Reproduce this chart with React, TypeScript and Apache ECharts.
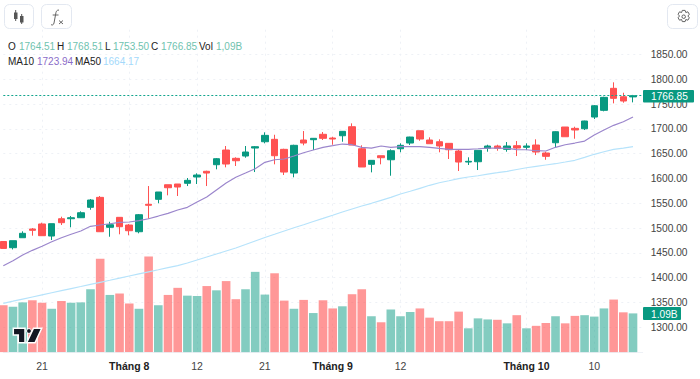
import React, { useEffect, useRef } from "react";
import * as echarts from "echarts";

// [open, close, low, high]
const candles: number[][] = [
  [1473, 1459, 1459, 1473], [1460.5, 1474.6, 1457, 1474.6], [1480.6, 1489.5, 1480.6, 1493.5], [1498.2, 1495.5, 1484.7, 1500.2],
  [1508.3, 1484.7, 1484.7, 1510.9], [1484, 1508.9, 1476, 1508.9], [1518.9, 1510.9, 1506.2, 1523], [1518.9, 1520.9, 1501.6, 1524.4],
  [1520.9, 1531, 1520.3, 1533.8], [1541.9, 1556.6, 1537, 1558.6], [1562, 1492.7, 1492.7, 1564.7], [1501.6, 1506.8, 1482.6, 1512.8],
  [1521.7, 1502.8, 1487.5, 1521.7], [1506.2, 1494.7, 1485.5, 1508.3], [1492.7, 1527, 1489.5, 1528.4], [1548, 1546, 1518.9, 1584.8],
  [1558, 1572.8, 1550, 1572.8], [1587.4, 1581.4, 1566.1, 1587.4], [1588.9, 1582.8, 1564.7, 1588.9], [1590.3, 1596.3, 1584.8, 1601],
  [1603, 1607, 1588.9, 1610.4], [1614.5, 1611, 1584.8, 1615.7], [1627.8, 1639.9, 1618.5, 1641.3], [1657.4, 1629.2, 1622.5, 1665.5],
  [1640.7, 1635.8, 1625.2, 1642.7], [1645.3, 1653.4, 1641.9, 1665.5], [1661.4, 1664.1, 1613, 1665.5], [1674.1, 1687, 1670.9, 1693.1],
  [1679, 1645.9, 1628.6, 1688.2], [1658.8, 1613, 1607, 1660], [1611, 1666.9, 1602.4, 1668.1], [1677.6, 1671.5, 1666.9, 1695.7],
  [1678.2, 1681, 1657.4, 1681.6], [1689.1, 1681, 1677.6, 1693.7], [1681.6, 1679.6, 1668.1, 1684.2], [1686.2, 1695.1, 1674.1, 1695.7],
  [1704.4, 1667.5, 1667.5, 1711.2], [1660, 1623.2, 1623.2, 1666.9], [1628.6, 1636.6, 1612.4, 1637.2], [1645.9, 1641.9, 1628.6, 1645.9],
  [1637.8, 1656, 1605.6, 1658.8], [1660, 1666.9, 1652.8, 1670.9], [1671.5, 1683.6, 1667.5, 1684.2], [1696.3, 1679.6, 1676.1, 1696.3],
  [1677.6, 1670.1, 1670.1, 1683], [1674.1, 1665.5, 1652.8, 1679], [1670.9, 1658, 1639.3, 1670.9], [1655.4, 1633.2, 1615.1, 1658.8],
  [1633.2, 1634.6, 1627.2, 1642.7], [1633.8, 1656.8, 1617.1, 1656.8], [1660.8, 1665.5, 1654, 1668.1], [1665.5, 1660.8, 1656, 1668.1],
  [1658.8, 1665.5, 1654, 1673.5], [1666.1, 1661.4, 1645.3, 1675.5], [1662.9, 1665.5, 1657.4, 1670.9], [1667.5, 1653.4, 1647.3, 1679],
  [1651.4, 1644.7, 1637.8, 1654], [1672.1, 1694.3, 1662.9, 1695.1], [1703.8, 1684.2, 1684.2, 1703.8], [1701.1, 1697.8, 1680.2, 1704.4],
  [1700.3, 1715.9, 1697.8, 1716.5], [1723.9, 1746.7, 1719.9, 1748.1], [1737.4, 1763.6, 1735.4, 1764.8], [1781.8, 1761.6, 1751.5, 1793.9],
  [1764.8, 1756.2, 1752.8, 1772.9], [1764.51, 1766.85, 1753.5, 1768.51],
];

const volumes = [
  1.32, 1.28, 1.4, 1.46, 1.39, 1.22, 1.44, 1.39, 1.4, 1.77, 2.63, 1.61, 1.65, 1.37, 1.22, 2.69, 1.32, 1.61, 1.81,
  1.59, 1.58, 1.86, 1.74, 2.0, 1.49, 1.77, 2.26, 1.62, 2.22, 1.45, 1.22, 1.47, 1.1, 1.46, 1.23, 1.29,
  1.63, 1.77, 1.01, 0.84, 1.2, 1.01, 1.13, 1.23, 0.97, 0.87, 0.87, 1.14, 0.67, 0.95, 0.92, 0.91, 0.81, 1.04,
  0.67, 0.74, 0.82, 1.01, 0.81, 1.02, 1.04, 1.0, 1.23, 1.48, 1.12, 1.09,
];

const ma10 = [
  1424.2, 1434.2, 1445.7, 1455.2, 1463.3, 1472.5, 1480.6, 1487.5, 1494.1, 1503.6, 1506.2, 1508.8, 1511.7, 1512.3, 1514.9, 1518.9, 1524.3, 1529.8,
  1536.4, 1541.9, 1552.6, 1562.7, 1576.8, 1590.9, 1602.4, 1611, 1619.7, 1632.6, 1637.8, 1639.3, 1645.3, 1652, 1657.4, 1662.9, 1666.1, 1669.5,
  1668.1, 1662.9, 1661.4, 1665.5, 1662.9, 1664.1, 1664.1, 1664.1, 1662.9, 1660.8, 1658.8, 1658.8, 1658.8, 1660, 1661.4, 1661.4, 1660.8, 1658.4,
  1658, 1656, 1655.4, 1662.9, 1668.1, 1671.5, 1675.5, 1687.6, 1697.7, 1707.2, 1714.5, 1723.94,
];

const ma50 = [
  1348.4, 1352.6, 1356.9, 1361.1, 1365.3, 1369.6, 1373.8, 1378, 1382.2, 1386.5, 1390.7, 1394.9, 1399.2, 1403.4, 1407.7, 1411.9, 1416.1, 1420.4,
  1424.2, 1429.6, 1435.7, 1441.7, 1447.8, 1453.8, 1459.9, 1466.9, 1474, 1481, 1487.5, 1494.1, 1500.6, 1506.8, 1513.3, 1519.5, 1525.8, 1532.4,
  1538.5, 1544.5, 1550, 1556, 1562, 1568.7, 1574.2, 1580.2, 1586.3, 1591.5, 1595.5, 1599.6, 1603, 1605.6, 1609, 1611.7, 1614.5, 1618.1,
  1621.7, 1624.6, 1627.2, 1629.8, 1633.2, 1636.7, 1642.7, 1648.8, 1654, 1658.8, 1661.4, 1664.17,
];

const tickIndexes = [4, 13, 20, 27, 34, 41, 54, 61];
const tickTexts = ["21", "Tháng 8", "12", "21", "Tháng 9", "12", "Tháng 10", "10"];
const boldTicks = ["Tháng 8", "Tháng 9", "Tháng 10"];

const lastPrice = 1766.85;
const lastPriceText = "1766.85";
const lastVolumeText = "1.09B";

const UP = "#089981";
const DOWN = "#ff5252";
const UP_TEXT = "#6fc3af";
const MA10_COLOR = "#9b86cc";
const MA50_COLOR = "#b6e3fb";
const GRID = "#eef1f6";
const FONT = '"Liberation Sans", Arial, sans-serif';

const headerRow1: [string, number, string][] = [
  ["O", 8, "#222"], ["1764.51", 19, UP_TEXT], ["H", 57, "#222"], ["1768.51", 67, UP_TEXT], ["L", 105, "#222"],
  ["1753.50", 113, UP_TEXT], ["C", 151, "#222"], ["1766.85", 161, UP_TEXT], ["Vol", 199, "#222"], ["1,09B", 216, UP_TEXT],
];
const headerRow2: [string, number, string][] = [
  ["MA10", 8, "#222"], ["1723.94", 37, "#8a6cc8"], ["MA50", 75, "#222"], ["1664.17", 103, "#a3d9fb"],
];

const GEAR_PATH =
  "M10 3h4l1 3 3-1 2 3.5-2 2.5 2 2.5-2 3.5-3-1-1 3h-4l-1-3-3 1-2-3.5 2-2.5-2-2.5 2-3.5 3 1z M14.5 12a2.5 2.5 0 1 1-5 0a2.5 2.5 0 1 1 5 0z";
const FX_PATH = "M9 1C6.2 1 6 3 5.7 5L4 14C3.7 16 2 16.5 1 15.5M2.7 6H8.5M9 11.5L13 15M13 11.5L9 15";
echarts.graphic.registerShape("gearIcon", echarts.graphic.extendPath(GEAR_PATH as any, {}));
echarts.graphic.registerShape("fxIcon", echarts.graphic.extendPath(FX_PATH as any, {}));

function txt(text: string, x: number, y: number, fill: string, font = `10px ${FONT}`, z = 20) {
  return { type: "text", x, y, z, style: { text, fill, font, verticalAlign: "middle", align: "left" } };
}

function button(x: number, width: number) {
  return {
    type: "rect", z: 20,
    shape: { x: x + 0.5, y: 4.5, width, height: 24, r: 5 },
    style: { fill: "#fff", stroke: "#e3e8f1", lineWidth: 1 },
  };
}

export default function App() {
  const ref = useRef<HTMLDivElement>(null);
  useEffect(() => {
    document.body.style.margin = "0";
    const chart = echarts.init(ref.current!, null, { renderer: "svg" });
    const categories = [...candles.map((_, i) => `d${i}`), "d66"];
    const isTick = (i: number) => tickIndexes.includes(i);
    chart.setOption({
      animation: false,
      backgroundColor: "#fff",
      grid: { left: 3.3, width: 639.4, top: 29.7, height: 322.4 },
      xAxis: {
        type: "category",
        boundaryGap: false,
        data: categories,
        axisLine: { show: true, lineStyle: { color: GRID } },
        axisTick: { show: false },
        axisLabel: {
          interval: (i: number) => isTick(i),
          margin: 8,
          fontFamily: FONT,
          fontSize: 10.5,
          color: "#444",
          hideOverlap: false,
          formatter: (_: string, i: number) => {
            const t = tickTexts[tickIndexes.indexOf(i)] ?? "";
            return boldTicks.includes(t) ? `{b|${t}}` : t;
          },
          rich: { b: { fontFamily: FONT, fontSize: 10.5, fontWeight: "bold", color: "#222" } },
        },
        splitLine: { show: true, interval: (i: number) => isTick(i), lineStyle: { color: GRID, type: [2, 4] } },
      },
      yAxis: [
        {
          type: "value",
          position: "right",
          min: 1250,
          max: 1900,
          interval: 50,
          axisLine: { show: false },
          axisTick: { show: false },
          axisLabel: {
            margin: 8,
            fontFamily: FONT,
            fontSize: 10.2,
            color: "#444",
            showMinLabel: false,
            showMaxLabel: false,
            formatter: (v: number) => v.toFixed(2),
          },
          splitLine: { show: true, showMinLine: false, showMaxLine: false, lineStyle: { color: GRID, type: [2, 4] } },
        },
        { type: "value", min: 0, max: 9.08, show: false, splitLine: { show: false } },
      ],
      series: [
        {
          type: "bar",
          yAxisIndex: 1,
          barWidth: 8.6,
          data: volumes.map((v, i) => ({
            value: v,
            itemStyle: {
              color: candles[i][1] >= candles[i][0] ? "rgba(8,153,129,0.5)" : "rgba(255,82,82,0.6)",
            },
          })),
        },
        {
          type: "candlestick",
          barWidth: 7,
          data: candles,
          itemStyle: { color: UP, color0: DOWN, borderColor: UP, borderColor0: DOWN, borderWidth: 1 },
          markLine: {
            silent: true,
            symbol: "none",
            label: { show: false },
            lineStyle: { color: "#12a58d", type: [2, 2], width: 1, opacity: 1 },
            data: [{ yAxis: lastPrice }],
          },
        },
        { type: "line", data: ma10, showSymbol: false, symbol: "none", lineStyle: { color: MA10_COLOR, width: 1.2 } },
        { type: "line", data: ma50, showSymbol: false, symbol: "none", lineStyle: { color: MA50_COLOR, width: 1.2 } },
      ],
      graphic: [
        button(4, 29),
        button(41, 30),
        button(667, 30),
        { type: "line", z: 21, shape: { x1: 15.7, y1: 10, x2: 15.7, y2: 21 }, style: { stroke: "#555", lineWidth: 1 } },
        { type: "rect", z: 21, shape: { x: 14, y: 12.5, width: 3.5, height: 6.5 }, style: { fill: "#555" } },
        { type: "line", z: 21, shape: { x1: 21.7, y1: 14, x2: 21.7, y2: 24 }, style: { stroke: "#555", lineWidth: 1 } },
        { type: "rect", z: 21, shape: { x: 20, y: 16, width: 3.5, height: 6.5 }, style: { fill: "#555" } },
        { type: "fxIcon", z: 21, x: 50, y: 9, style: { fill: "none", stroke: "#666", lineWidth: 1 } },
        { type: "gearIcon", z: 21, x: 675.3, y: 8.3, scaleX: 0.7, scaleY: 0.7, style: { fill: "none", stroke: "#555", lineWidth: 1.3 } },
        ...headerRow1.map(([t, x, c]) => txt(t, x, 46.5, c)),
        ...headerRow2.map(([t, x, c]) => txt(t, x, 61.5, c)),
        { type: "rect", z: 20, shape: { x: 643, y: 90, width: 51, height: 12.5, r: 1 }, style: { fill: UP } },
        txt(lastPriceText, 651, 96.5, "#fff", `10.2px ${FONT}`, 21),
        { type: "rect", z: 20, shape: { x: 643, y: 307, width: 38, height: 13, r: 1 }, style: { fill: UP } },
        txt(lastVolumeText, 651, 314, "#fff", `10.2px ${FONT}`, 21),
        {
          type: "group", z: 22,
          children: [
            { type: "polygon", z: 22, shape: { points: [[13.3, 328.3], [25, 328.3], [25, 342.7], [18.3, 342.7], [18.3, 335], [13.3, 335]] }, style: { fill: "#131722", stroke: "#fff", lineWidth: 1.5 } },
            { type: "circle", z: 22, shape: { cx: 29, cy: 331, r: 2.4 }, style: { fill: "#131722", stroke: "#fff", lineWidth: 1 } },
            { type: "polygon", z: 22, shape: { points: [[33.5, 328.3], [41.7, 328.3], [35, 342.7], [26.7, 342.7]] }, style: { fill: "#131722", stroke: "#fff", lineWidth: 1.5 } },
          ],
        },
      ],
    });
    return () => chart.dispose();
  }, []);
  return <div ref={ref} style={{ width: 700, height: 379 }} />;
}
